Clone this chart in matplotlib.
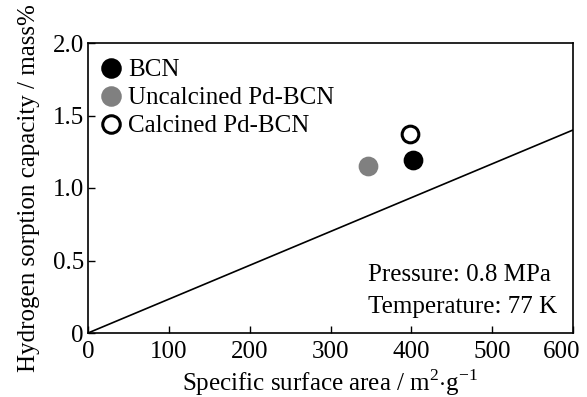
import matplotlib
matplotlib.use("Agg")
import matplotlib.pyplot as plt
import matplotlib.transforms as mtransforms

plt.rcParams["font.family"] = ["Liberation Serif", "DejaVu Serif"]
plt.rcParams["mathtext.fontset"] = "custom"
plt.rcParams["mathtext.rm"] = "Liberation Serif"

# data
samples = ["BCN", "Uncalcined Pd-BCN", "Calcined Pd-BCN"]
surface_area = [402, 346, 398]
capacity = [1.19, 1.15, 1.37]
fill_colors = ["black", "#808080", "white"]
edge_colors = ["black", "#808080", "black"]

line_x = [0, 600]
line_y = [0, 1.4]

x_ticks = [0, 100, 200, 300, 400, 500, 600]
y_ticks = [0, 0.5, 1.0, 1.5, 2.0]
y_tick_labels = ["0", "0.5", "1.0", "1.5", "2.0"]

FS = 18

fig = plt.figure(figsize=(5.87, 3.97), dpi=100)
ax = fig.add_axes([88 / 587, 1 - 333 / 397, 485 / 587, 290 / 397])

ax.plot(line_x, line_y, color="black", lw=1.2)
for name, xv, yv, fc, ec in zip(samples, surface_area, capacity, fill_colors, edge_colors):
    ax.plot(xv, yv, "o", ms=12, mfc=fc, mec=ec, mew=2.2, label=name, ls="none")

ax.set_xlim(0, 600)
ax.set_ylim(0, 2.0)
ax.set_xticks(x_ticks)
ax.set_yticks(y_ticks)
ax.set_yticklabels(y_tick_labels)
ax.tick_params(direction="in", length=5, width=1, labelsize=FS)
ax.tick_params(axis="x", pad=6)
ax.tick_params(axis="y", pad=3)
for s in ax.spines.values():
    s.set_linewidth(1.2)

# last x tick label sits a bit left so it stays inside the figure
last = ax.get_xticklabels()[-1]
last.set_transform(last.get_transform() + mtransforms.ScaledTranslation(-11 / 100, 0, fig.dpi_scale_trans))

ax.set_xlabel(r"Specific surface area / m$^2$$\cdot$g$^{-1}$", fontsize=FS, labelpad=3)
ax.set_ylabel("Hydrogen sorption capacity / mass%", fontsize=FS, labelpad=9)

ax.legend(loc="upper left", bbox_to_anchor=(0, 0.98), frameon=False, fontsize=FS,
          handletextpad=0.2, borderaxespad=0.1, borderpad=0.3, labelspacing=0.22,
          handlelength=1.0, markerscale=1.05)

ax.text(0.577, 0.2, "Pressure: 0.8 MPa", transform=ax.transAxes, ha="left", va="center", fontsize=FS)
ax.text(0.577, 0.09, "Temperature: 77 K", transform=ax.transAxes, ha="left", va="center", fontsize=FS)

fig.savefig("out.png", dpi=100)
